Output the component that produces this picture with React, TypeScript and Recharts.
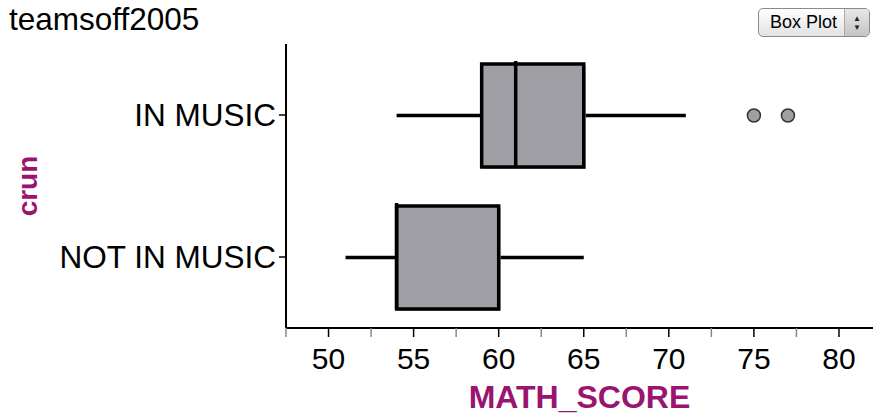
import { ComposedChart, Bar, XAxis, YAxis, Label } from 'recharts'

// crun groups and their five-number summaries for MATH_SCORE
const categories = ['IN MUSIC', 'NOT IN MUSIC']
const minValues = [54, 51]
const q1Values = [59, 54]
const medianValues = [61, 54]
const q3Values = [65, 60]
const maxValues = [71, 65]
const outlierValues = [[75, 77], []]

const xTicks = [47.5, 50, 52.5, 55, 57.5, 60, 62.5, 65, 67.5, 70, 72.5, 75, 77.5, 80]

const FONT = '"Liberation Sans", Arial, sans-serif'
const MAGENTA = '#9a1470'
const BOX_FILL = '#a09fa5'

const data = categories.map((crun, i) => ({
  crun,
  range: [minValues[i], maxValues[i]],
  q1: q1Values[i],
  median: medianValues[i],
  q3: q3Values[i],
  outliers: outlierValues[i],
}))

const BoxShape = (props: any) => {
  const { x, y, width, height, payload } = props
  const [lo, hi] = payload.range
  const k = width / (hi - lo)
  const px = (v: number) => x + (v - lo) * k
  const cy = y + height / 2
  const bx = px(payload.q1)
  const bw = px(payload.q3) - bx
  return (
    <g>
      <line x1={px(lo)} x2={bx} y1={cy} y2={cy} stroke="#000" strokeWidth={3.5} />
      <line x1={bx + bw} x2={px(hi)} y1={cy} y2={cy} stroke="#000" strokeWidth={3.5} />
      <rect x={bx + 2} y={y + 2} width={bw} height={height} fill="#b0b0b0" />
      <rect x={bx} y={y} width={bw} height={height} fill={BOX_FILL} stroke="#000" strokeWidth={3.5} />
      <line x1={px(payload.median)} x2={px(payload.median)} y1={y - 3} y2={y + height} stroke="#000" strokeWidth={3.5} />
      {payload.outliers.map((v: number) => (
        <circle key={v} cx={px(v)} cy={cy} r={6.5} fill={BOX_FILL} stroke="#333" strokeWidth={1.5} />
      ))}
    </g>
  )
}

const XTick = (props: any) => {
  const { x, y, payload } = props
  const major = payload.value % 5 === 0
  return (
    <g>
      <line x1={x} x2={x} y1={y} y2={y + 9} stroke={major ? '#000' : '#888'} strokeWidth={1.5} />
      {major && (
        <text x={x} y={y + 41} textAnchor="middle" fontSize={30} fontFamily={FONT} fill="#000">
          {payload.value}
        </text>
      )}
    </g>
  )
}

const YTick = (props: any) => {
  const { x, y, payload } = props
  return (
    <g>
      <line x1={x - 7} x2={x} y1={y} y2={y} stroke="#000" strokeWidth={1.5} />
      <text x={x - 10} y={y + 11} textAnchor="end" fontSize={31.5} fontFamily={FONT} fill="#000">
        {payload.value}
      </text>
    </g>
  )
}

export default function App() {
  return (
    <div style={{ position: 'absolute', left: 0, top: 0, width: 873, height: 414, background: '#fff', fontFamily: FONT }}>
      <div style={{ position: 'absolute', left: 9, top: 1, fontSize: 31.5, color: '#000' }}>teamsoff2005</div>

      <div
        style={{
          position: 'absolute', left: 758, top: 8, width: 112, height: 29,
          border: '1px solid #8a8a8a', borderRadius: 5, boxSizing: 'border-box',
          background: 'linear-gradient(#ffffff, #e2e2e2)', display: 'flex', overflow: 'hidden',
        }}
      >
        <div style={{ flex: 1, fontSize: 18, lineHeight: '27px', paddingLeft: 11, color: '#000' }}>Box Plot</div>
        <div
          style={{
            width: 24, borderLeft: '1px solid #aaa', background: 'linear-gradient(#e8e8e8, #c4c4c4)',
            display: 'flex', flexDirection: 'column', alignItems: 'center', justifyContent: 'center',
            fontSize: 8, lineHeight: '9px', color: '#222',
          }}
        >
          <span>▲</span>
          <span>▼</span>
        </div>
      </div>

      <ComposedChart
        width={873}
        height={414}
        layout="vertical"
        data={data}
        margin={{ top: 44, right: 0, bottom: 0, left: 0 }}
        barSize={103}
      >
        <XAxis
          type="number"
          domain={[47.5, 82]}
          allowDataOverflow
          ticks={xTicks}
          interval={0}
          height={86}
          tickSize={0}
          tickMargin={0}
          tickLine={false}
          tick={<XTick />}
          axisLine={{ stroke: '#000', strokeWidth: 2 }}
        >
          <Label
            value="MATH_SCORE"
            position="insideBottom"
            offset={6}
            style={{ fontSize: 32, fontWeight: 'bold', fill: MAGENTA, fontFamily: FONT }}
          />
        </XAxis>
        <YAxis
          type="category"
          dataKey="crun"
          width={286}
          tickSize={0}
          tickMargin={0}
          tickLine={false}
          interval={0}
          tick={<YTick />}
          axisLine={{ stroke: '#000', strokeWidth: 2 }}
        >
          <Label
            content={(p: any) => {
              const vb = p.viewBox
              const cy = vb.y + vb.height / 2
              return (
                <text
                  x={27}
                  y={cy}
                  transform={`rotate(-90, 27, ${cy})`}
                  textAnchor="middle"
                  dominantBaseline="central"
                  fontSize={28}
                  fontWeight="bold"
                  fontFamily={FONT}
                  fill={MAGENTA}
                >
                  crun
                </text>
              )
            }}
          />
        </YAxis>
        <Bar dataKey="range" shape={<BoxShape />} isAnimationActive={false} />
      </ComposedChart>
    </div>
  )
}
